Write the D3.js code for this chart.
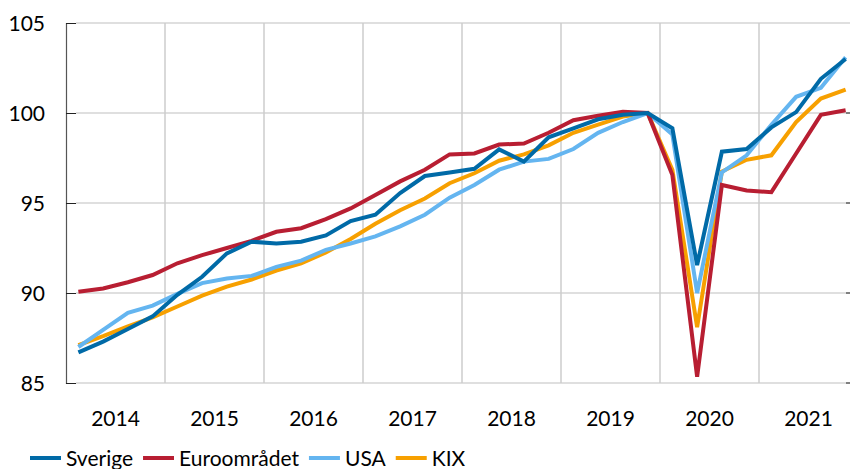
<!DOCTYPE html>
<html>
<head>
<meta charset="utf-8">
<script src="https://cdn.jsdelivr.net/npm/d3@7"></script>
<style>
  body { margin: 0; background: #fff; }
  text { font-family: Lato, "Open Sans", sans-serif; fill: #000; }
</style>
</head>
<body>
<div id="chart"></div>
<script>
const width = 850, height = 469;
const margin = {left: 66, right: 2, top: 23, bottom: 86};

// quarterly index, 2019Q4 = 100
const years = ["2014", "2015", "2016", "2017", "2018", "2019", "2020", "2021"];
const yTicks = [85, 90, 95, 100, 105];

const sverige = [86.7, 87.3, 88.0, 88.7, 89.9, 90.9, 92.2, 92.85,
                 92.75, 92.85, 93.2, 94.0, 94.35, 95.55, 96.5, 96.7,
                 96.9, 97.98, 97.3, 98.65, 99.15, 99.65, 99.9, 100,
                 99.15, 91.55, 97.85, 98.0, 99.2, 100.05, 101.9, 103.0];
const euro = [90.07, 90.25, 90.6, 91.0, 91.65, 92.1, 92.5, 92.9,
              93.4, 93.6, 94.1, 94.7, 95.45, 96.2, 96.85, 97.7,
              97.75, 98.25, 98.3, 98.9, 99.6, 99.85, 100.07, 100,
              96.55, 85.35, 96.0, 95.7, 95.6, 97.75, 99.9, 100.15];
const usa = [87.0, 87.95, 88.9, 89.3, 89.95, 90.55, 90.8, 90.95,
             91.45, 91.8, 92.4, 92.75, 93.15, 93.7, 94.35, 95.3,
             96.0, 96.85, 97.3, 97.45, 98.0, 98.9, 99.5, 100,
             98.8, 90.0, 96.7, 97.65, 99.35, 100.9, 101.4, 103.1];
const kix = [87.1, 87.6, 88.15, 88.65, 89.25, 89.85, 90.35, 90.75,
             91.25, 91.65, 92.25, 93.0, 93.85, 94.6, 95.25, 96.1,
             96.65, 97.35, 97.7, 98.2, 98.9, 99.35, 99.8, 100,
             96.85, 88.1, 96.75, 97.4, 97.65, 99.5, 100.8, 101.3];

const series = [
  {name: "Sverige", values: sverige, color: "#006aa7"},
  {name: "Euroområdet", values: euro, color: "#b81e32"},
  {name: "USA", values: usa, color: "#64b5f0"},
  {name: "KIX", values: kix, color: "#f7a000"}
];

const svg = d3.select("#chart").append("svg")
    .attr("width", width)
    .attr("height", height);

const bandW = 99;
const plotRight = margin.left + bandW * years.length;   // runs past the window edge
const x = d3.scaleLinear()
    .domain([0, years.length * 4])
    .range([margin.left, plotRight]);
const y = d3.scaleLinear()
    .domain([85, 105])
    .range([height - margin.bottom, margin.top]);

const xBand = d3.scaleBand()
    .domain(years)
    .range([margin.left, plotRight]);

// horizontal grid
svg.append("g")
  .selectAll("line")
  .data(yTicks)
  .enter().append("line")
    .attr("x1", margin.left + 10)
    .attr("x2", width)
    .attr("y1", d => y(d))
    .attr("y2", d => y(d))
    .attr("stroke", "#bfbfbf")
    .attr("stroke-width", 1);

// vertical grid at year boundaries
svg.append("g")
  .selectAll("line")
  .data(years.slice(1))
  .enter().append("line")
    .attr("x1", d => xBand(d))
    .attr("x2", d => xBand(d))
    .attr("y1", y(105))
    .attr("y2", y(85))
    .attr("stroke", "#cccccc")
    .attr("stroke-width", 1.5);

// left axis
const yAxis = svg.append("g")
    .attr("transform", `translate(${margin.left},0)`)
    .call(d3.axisRight(y).tickValues(yTicks).tickSize(10).tickFormat(""));
yAxis.select(".domain").attr("stroke", "#555").attr("stroke-width", 1.2);
yAxis.selectAll(".tick line").attr("stroke", "#222");

svg.append("g")
  .selectAll("text")
  .data(yTicks)
  .enter().append("text")
    .attr("x", 45)
    .attr("y", d => y(d))
    .attr("dy", "0.36em")
    .attr("text-anchor", "end")
    .style("font-size", "21px")
    .text(d => d);

// right-side tick marks
svg.append("g")
  .selectAll("line")
  .data(yTicks.slice(0, 4))
  .enter().append("line")
    .attr("x1", 846).attr("x2", 850)
    .attr("y1", d => y(d)).attr("y2", d => y(d))
    .attr("stroke", "#222");

// year labels
svg.append("g")
  .selectAll("text")
  .data(years)
  .enter().append("text")
    .attr("x", d => xBand(d) + xBand.bandwidth() / 2)
    .attr("y", 426)
    .attr("text-anchor", "middle")
    .style("font-size", "21px")
    .text(d => d);

// lines, Sverige drawn last so it sits on top
const line = d3.line()
    .x((d, i) => x(i + 0.5))
    .y(d => y(d));

svg.append("g")
  .selectAll("path")
  .data(series.slice().reverse())
  .enter().append("path")
    .attr("d", d => line(d.values))
    .attr("fill", "none")
    .attr("stroke", d => d.color)
    .attr("stroke-width", 4)
    .attr("stroke-linejoin", "miter");

// legend
const legend = svg.append("g").attr("transform", "translate(0,458)");
let lx = 30;
series.forEach(s => {
  legend.append("line")
      .attr("x1", lx).attr("x2", lx + 31)
      .attr("y1", 0).attr("y2", 0)
      .attr("stroke", s.color)
      .attr("stroke-width", 4);
  const t = legend.append("text")
      .attr("x", lx + 36)
      .attr("y", 8)
      .style("font-size", "21px")
      .text(s.name);
  lx += 36 + t.node().getComputedTextLength() + 10;
});
</script>
</body>
</html>
